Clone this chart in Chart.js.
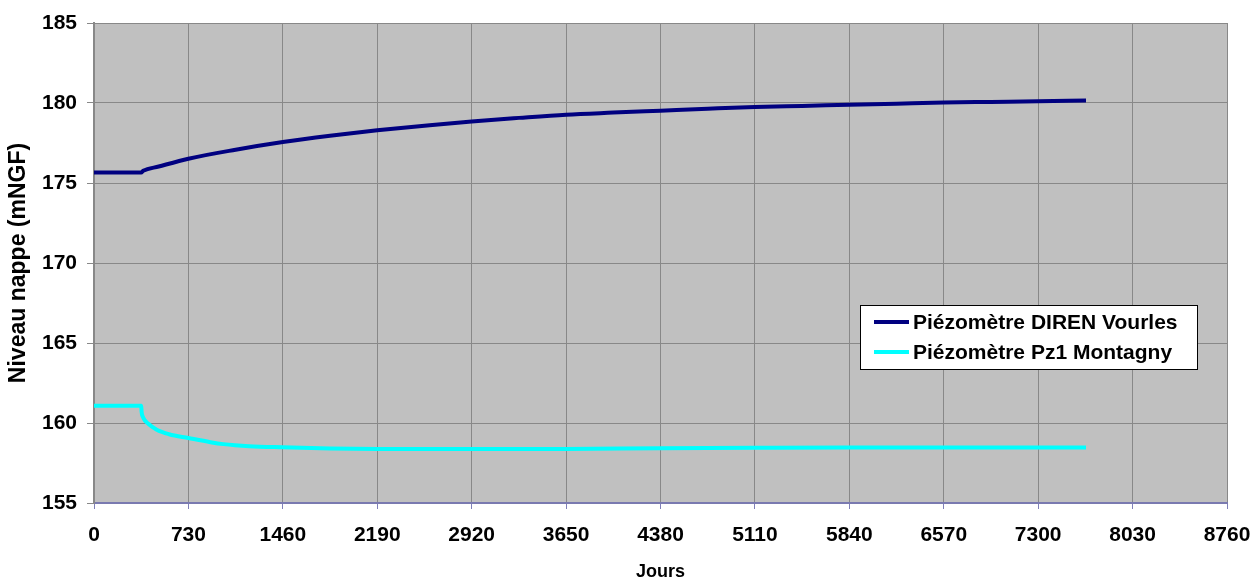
<!DOCTYPE html>
<html>
<head>
<meta charset="utf-8">
<script src="https://cdn.jsdelivr.net/npm/chart.js@4"></script>
<style>
  html, body { margin: 0; padding: 0; background: #ffffff; }
  #wrap { width: 1254px; height: 577px; position: relative; }
</style>
</head>
<body>
<div id="wrap"><canvas id="c" width="1254" height="577"></canvas></div>
<script>
// Niveaux piézométriques simulés (mNGF) en fonction du temps (jours)
const seriesNames = ['Piézomètre DIREN Vourles', 'Piézomètre Pz1 Montagny'];

const vourlesDays = [0, 365, 380, 500, 730, 1095, 1460, 1825, 2190, 2555, 2920, 3285, 3650, 4015, 4380, 4745, 5110, 5475, 5840, 6205, 6570, 6935, 7300, 7670];
const vourlesLevels = [175.66, 175.66, 175.76, 176.03, 176.52, 177.08, 177.56, 177.95, 178.29, 178.58, 178.85, 179.07, 179.27, 179.40, 179.52, 179.64, 179.75, 179.82, 179.89, 179.96, 180.03, 180.07, 180.11, 180.16];

const montagnyDays = [0, 365, 368, 380, 420, 485, 580, 730, 900, 1000, 1200, 1460, 1825, 2190, 2920, 3650, 4380, 5110, 5840, 6570, 7300, 7670];
const montagnyLevels = [161.08, 161.08, 160.70, 160.35, 159.95, 159.58, 159.30, 159.06, 158.80, 158.68, 158.55, 158.48, 158.41, 158.38, 158.37, 158.38, 158.42, 158.45, 158.47, 158.47, 158.47, 158.47];

const xTicks = [0, 730, 1460, 2190, 2920, 3650, 4380, 5110, 5840, 6570, 7300, 8030, 8760];
const yTicks = [155, 160, 165, 170, 175, 180, 185];

const FONT = 'Liberation Sans, Arial, Helvetica, sans-serif';

function toPoints(xs, ys) {
  return xs.map((x, i) => ({ x: x, y: ys[i] }));
}

// Fond gris de la zone de tracé
const plotBackground = {
  id: 'plotBackground',
  beforeDraw(chart) {
    const { ctx, chartArea: a } = chart;
    ctx.save();
    ctx.fillStyle = '#c0c0c0';
    ctx.fillRect(a.left, a.top, a.right - a.left, a.bottom - a.top);
    ctx.restore();
  }
};

// Légende encadrée, placée dans la zone de tracé
const boxedLegend = {
  id: 'boxedLegend',
  afterDatasetsDraw(chart) {
    const { ctx } = chart;
    const xs = chart.scales.x, ys = chart.scales.y;
    const left = Math.round(xs.getPixelForValue(5922));
    const right = Math.round(xs.getPixelForValue(8528));
    const top = Math.round(ys.getPixelForValue(167.375));
    const bottom = Math.round(ys.getPixelForValue(163.375));
    ctx.save();
    ctx.fillStyle = '#ffffff';
    ctx.fillRect(left, top, right - left, bottom - top);
    ctx.strokeStyle = '#000000';
    ctx.lineWidth = 1;
    ctx.strokeRect(left + 0.5, top + 0.5, right - left, bottom - top);
    ctx.font = 'bold 21px ' + FONT;
    ctx.textBaseline = 'middle';
    ctx.textAlign = 'left';
    const rowH = (bottom - top) / 2;
    chart.data.datasets.forEach((ds, i) => {
      const cy = top + rowH * (i + 0.5) + (i === 0 ? 1 : -1);
      ctx.strokeStyle = ds.borderColor;
      ctx.lineWidth = 4;
      ctx.beginPath();
      ctx.moveTo(left + 14, cy);
      ctx.lineTo(left + 49, cy);
      ctx.stroke();
      ctx.fillStyle = '#000000';
      ctx.fillText(ds.label, left + 53, cy + 1);
    });
    ctx.restore();
  }
};

new Chart(document.getElementById('c'), {
  type: 'line',
  data: {
    datasets: [
      {
        label: seriesNames[0],
        data: toPoints(vourlesDays, vourlesLevels),
        borderColor: '#000080',
        borderWidth: 4,
        pointRadius: 0,
        cubicInterpolationMode: 'monotone',
        fill: false
      },
      {
        label: seriesNames[1],
        data: toPoints(montagnyDays, montagnyLevels),
        borderColor: '#00ffff',
        borderWidth: 4,
        pointRadius: 0,
        cubicInterpolationMode: 'monotone',
        fill: false
      }
    ]
  },
  options: {
    responsive: false,
    animation: false,
    devicePixelRatio: 1,
    layout: { padding: { top: 23, right: 27, bottom: 0, left: 0 } },
    plugins: {
      legend: { display: false },
      tooltip: { enabled: false }
    },
    scales: {
      x: {
        type: 'linear',
        min: 0,
        max: 8760,
        afterBuildTicks(scale) { scale.ticks = xTicks.map(v => ({ value: v })); },
        afterFit(scale) {
          scale.height = 74;
          scale.paddingLeft = 0;
          scale.paddingRight = 0;
        },
        ticks: {
          color: '#000000',
          font: { family: FONT, size: 21, weight: 'bold' },
          padding: 14,
          maxRotation: 0,
          autoSkip: false,
          callback: v => String(v)
        },
        grid: {
          color: '#888888',
          lineWidth: 1,
          tickColor: '#8080b8',
          tickLength: 6
        },
        border: { color: '#7a7ab0', width: 2 },
        title: {
          display: true,
          text: 'Jours',
          color: '#000000',
          font: { family: FONT, size: 18, weight: 'bold' },
          padding: { top: 0, bottom: -6 }
        }
      },
      y: {
        type: 'linear',
        min: 155,
        max: 185,
        afterBuildTicks(scale) { scale.ticks = yTicks.map(v => ({ value: v })); },
        afterFit(scale) {
          scale.width = 94;
          scale.paddingTop = 0;
          scale.paddingBottom = 0;
        },
        ticks: {
          color: '#000000',
          font: { family: FONT, size: 21, weight: 'bold' },
          padding: 10,
          callback: v => String(v)
        },
        grid: {
          color: '#888888',
          lineWidth: 1,
          tickColor: '#888888',
          tickLength: 7
        },
        border: { color: '#888888', width: 2 },
        title: {
          display: true,
          text: 'Niveau nappe (mNGF)',
          color: '#000000',
          font: { family: FONT, size: 23, weight: 'bold' },
          padding: { top: 5, bottom: 0 }
        }
      }
    }
  },
  plugins: [plotBackground, boxedLegend]
});
</script>
</body>
</html>
